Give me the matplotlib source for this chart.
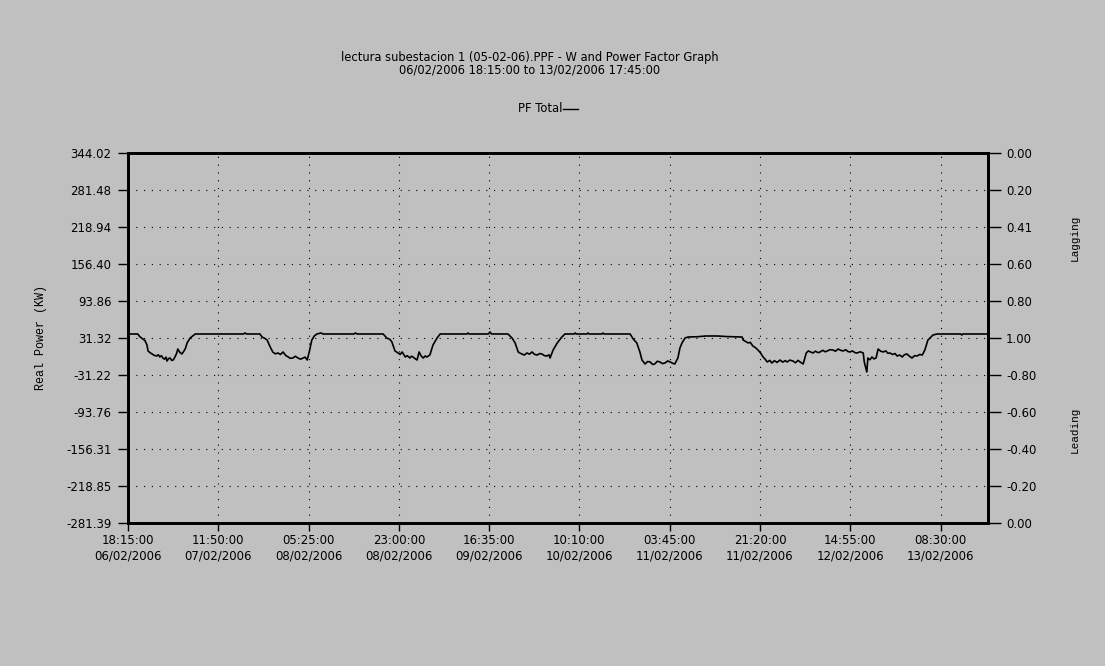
import matplotlib
matplotlib.use("Agg")
import matplotlib.pyplot as plt
from matplotlib.lines import Line2D

# PF Total trace, hours since 06/02/2006 18:15:00, plotted on the kW scale
hours = [
    0.0, 1.9, 2.3, 2.9, 3.3, 3.7, 3.9, 4.3, 4.7, 5.1, 5.6, 5.9, 6.2, 6.5, 6.8, 7.1, 7.4, 7.6,
    7.9, 8.2, 8.5, 8.8, 9.1, 9.5, 9.7, 10.1, 10.5, 10.9, 11.2, 11.5, 12.1, 12.6, 13.1,
    22.5, 22.8, 23.1, 25.7,
    26.1, 26.6, 27.1, 27.7, 28.2, 28.7, 29.2, 29.7, 30.2, 30.7, 31.2, 31.6, 32.1, 32.6, 33.1,
    33.6, 34.1, 34.5, 34.9, 35.3, 35.8, 36.3, 36.8,
    37.6, 38.0, 44.0, 44.3, 44.6, 49.7,
    50.4, 51.0, 51.4, 52.0, 52.6, 53.0, 53.4, 54.0, 54.4, 54.9, 55.2, 55.5, 55.9, 56.3, 56.7,
    57.1, 57.5, 57.9, 58.2, 58.8, 59.4, 60.2, 60.8,
    66.0, 66.2, 66.4, 70.2, 70.5, 70.8, 74.0,
    74.8, 75.4, 76.0, 76.4, 76.7, 77.2, 77.7, 78.2, 78.7, 79.2, 79.7, 80.2, 80.6, 81.1, 81.6,
    82.0, 82.2, 82.8, 83.6, 84.5, 85.1,
    86.9, 87.1, 87.3, 89.4, 89.6, 89.8, 92.3, 92.5, 92.7, 97.8,
    98.4, 99.1, 99.7, 100.1, 100.4, 100.7, 101.2, 101.7, 102.2, 102.6, 103.1, 103.6, 104.1,
    104.6, 105.1, 105.6, 106.1, 106.5, 107.1, 107.5, 107.9, 108.5, 109.1,
    111.0, 112.5, 114.9, 116.5, 119.6,
    119.8, 120.8, 121.2, 121.7, 122.2, 122.7, 123.2, 123.7, 124.1, 124.5, 125.0, 125.4, 125.9,
    126.4, 127.0, 127.5, 128.0, 128.4, 128.9, 129.5, 130.0, 130.5, 130.9, 131.5, 132.1, 132.5,
    133.0, 133.4, 133.9, 134.4, 134.8, 135.3, 135.8, 136.2, 136.7, 137.3, 137.8, 138.3, 138.8,
    139.3, 139.8, 140.2, 140.6, 141.1, 141.6, 142.0, 142.6, 143.2, 143.4, 143.9, 144.1, 144.5,
    144.9, 145.3, 145.7, 146.1, 146.6, 147.1, 147.6, 148.0, 148.4, 148.9, 149.4, 149.8, 150.3,
    150.8, 151.2, 151.7, 152.2, 152.7, 153.2, 153.7, 154.2, 154.7, 155.2, 155.8, 156.8, 157.6,
    162.2, 162.4, 162.6, 167.5,
]
pf_kw = [
    38.1, 38.1, 33.5, 29.6, 27.0, 19.5, 9.4, 6.5, 4.3, 2.0, 0.9, 3.0, -0.8, 1.5, -2.5, -4.5, -1.0, -7.6,
    -3.5, -2.5, -6.5, -5.9, -1.5, 6.0, 12.7, 7.0, 4.3, 9.4, 14.0, 22.9, 31.3, 34.7, 38.1,
    38.1, 39.8, 38.1, 38.1,
    33.0, 31.0, 27.9, 16.1, 7.7, 4.5, 6.0, 3.5, 7.7, 2.0, -0.8, -3.0, -2.5, 0.5, -2.5,
    -4.5, -2.5, -1.0, -5.9, 7.7, 27.9, 35.0, 38.1,
    39.8, 38.1, 38.1, 39.8, 38.1, 38.1,
    31.3, 29.0, 24.6, 9.4, 6.0, 3.5, 7.7, -0.8, 1.5, -2.5, 0.5, -0.8, -3.5, -5.9, 7.7,
    1.0, -2.5, 1.0, -0.8, 2.6, 19.5, 31.3, 38.1,
    38.1, 39.8, 38.1, 38.1, 41.5, 38.1, 38.1,
    31.3, 22.9, 7.7, 5.5, 4.3, 2.5, 6.0, 4.0, 7.7, 3.5, 2.6, 5.0, 4.3, 1.5, 0.9,
    3.0, -2.5, 11.0, 22.9, 33.0, 38.1,
    38.1, 39.8, 38.1, 38.1, 39.8, 38.1, 38.1, 39.8, 38.1, 38.1,
    29.6, 22.9, 7.7, -5.9, -9.0, -12.6, -8.5, -9.2, -13.5, -12.6, -8.0, -9.2, -12.0,
    -10.9, -7.5, -9.2, -11.5, -12.6, -2.5, 14.4, 22.9, 31.3, 33.0,
    33.5, 34.7, 34.7, 33.8, 33.0,
    27.9, 22.9, 24.0, 17.8, 15.0, 11.0, 6.0, -0.8, -4.5, -9.2, -6.5, -10.9, -7.0,
    -10.0, -5.9, -9.5, -7.0, -9.2, -6.0, -7.6, -10.5, -6.5, -9.2, -12.6, 6.0, 9.4,
    7.5, 6.0, 9.0, 6.5, 7.7, 10.5, 8.0, 9.4, 11.5, 11.0, 9.0, 12.7, 10.5,
    9.4, 11.5, 8.5, 7.7, 9.5, 6.5, 6.0, 8.0, 6.0, -9.2, -26.1, -2.5, -5.5,
    -0.8, -4.0, -2.5, 12.7, 9.0, 7.7, 9.5, 5.5, 6.0, 3.5, 5.0, 0.9, 2.5,
    -0.8, 3.0, 4.3, 0.5, -2.5, 1.5, 0.9, 3.5, 2.6, 11.0, 27.9, 36.4, 38.1,
    38.1, 36.4, 38.1, 38.1,
]

kw_ticks = [344.02, 281.48, 218.94, 156.40, 93.86, 31.32, -31.22, -93.76, -156.31, -218.85, -281.39]
pf_labels = ["0.00", "0.20", "0.41", "0.60", "0.80", "1.00", "-0.80", "-0.60", "-0.40", "-0.20", "0.00"]

# one tick every 17h35m
x_ticks = [0, 17.5833, 35.1667, 52.75, 70.3333, 87.9167, 105.5, 123.0833, 140.6667, 158.25]
x_labels = ["18:15:00\n06/02/2006", "11:50:00\n07/02/2006", "05:25:00\n08/02/2006",
            "23:00:00\n08/02/2006", "16:35:00\n09/02/2006", "10:10:00\n10/02/2006",
            "03:45:00\n11/02/2006", "21:20:00\n11/02/2006", "14:55:00\n12/02/2006",
            "08:30:00\n13/02/2006"]
x_end = 167.5

bg = "#c0c0c0"
sans = "DejaVu Sans"
mono = "Liberation Mono"

fig = plt.figure(figsize=(11.05, 6.66), dpi=100, facecolor=bg)
ax = fig.add_axes([128 / 1105, 1 - 523 / 666, 860 / 1105, 370 / 666])
ax.set_facecolor(bg)

ax.plot(hours, pf_kw, color="black", lw=1.2)

ax.set_xlim(0, x_end)
ax.set_ylim(kw_ticks[-1], kw_ticks[0])
ax.set_xticks(x_ticks)
ax.set_xticklabels(x_labels, fontsize=8.5, family=sans, linespacing=1.2)
ax.set_yticks(kw_ticks)
ax.set_yticklabels(["%.2f" % v for v in kw_ticks], fontsize=8.5, family=sans)
ax.tick_params(axis="x", length=6, width=1, pad=2)
ax.tick_params(axis="y", length=7, width=1, pad=5)
ax.grid(True, color="black", linestyle=(0, (1, 6)), lw=0.8)

for s in ax.spines.values():
    s.set_linewidth(2)

ax2 = ax.twinx()
ax2.set_ylim(ax.get_ylim())
ax2.set_yticks(kw_ticks)
ax2.set_yticklabels(pf_labels, fontsize=8.5, family=sans)
ax2.tick_params(axis="y", length=9, width=1, pad=4)
for s in ax2.spines.values():
    s.set_linewidth(2)

ax.set_ylabel("Real Power (KW)", fontsize=8.5, family=mono, labelpad=14)
fig.text(1075 / 1105, 1 - 238 / 666, "Lagging", rotation=90, fontsize=8, family=mono,
         ha="center", va="center")
fig.text(1075 / 1105, 1 - 430 / 666, "Leading", rotation=90, fontsize=8, family=mono,
         ha="center", va="center")

fig.text(530 / 1105, 1 - 57 / 666, "lectura subestacion 1 (05-02-06).PPF - W and Power Factor Graph",
         fontsize=8.3, family=sans, ha="center", va="center")
fig.text(530 / 1105, 1 - 70 / 666, "06/02/2006 18:15:00 to 13/02/2006 17:45:00",
         fontsize=8.3, family=sans, ha="center", va="center")

# legend entry
fig.text(562 / 1105, 1 - 109 / 666, "PF Total", fontsize=8.3, family=sans, ha="right", va="center")
fig.add_artist(Line2D([563 / 1105, 578 / 1105], [1 - 109 / 666, 1 - 109 / 666],
                      color="black", lw=1))

fig.savefig("out.png", dpi=100, facecolor=bg)
